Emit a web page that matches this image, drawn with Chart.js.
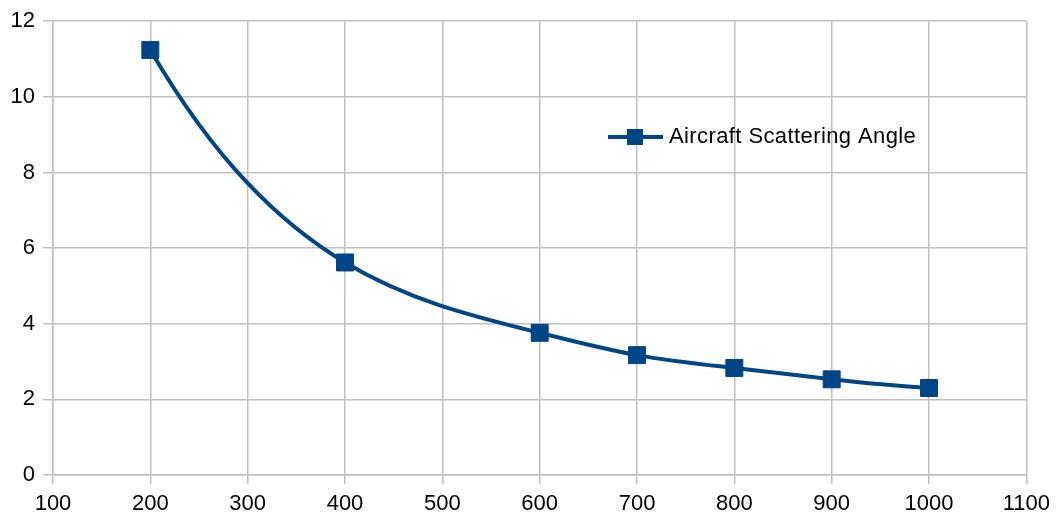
<!DOCTYPE html>
<html>
<head>
<meta charset="utf-8">
<script src="https://cdn.jsdelivr.net/npm/chart.js@4/dist/chart.umd.min.js"></script>
<style>
  html, body { margin: 0; padding: 0; background: #fff; }
  #wrap { width: 1057px; height: 519px; }
</style>
</head>
<body>
<div id="wrap"><canvas id="angleChart" width="1057" height="519"></canvas></div>
<script>
// Data
const seriesLabel = 'Aircraft Scattering Angle';
const xValues = [200, 400, 600, 700, 800, 900, 1000];
const yValues = [11.24, 5.62, 3.76, 3.17, 2.83, 2.53, 2.30];
const xTicks = [100, 200, 300, 400, 500, 600, 700, 800, 900, 1000, 1100];
const yTicks = [0, 2, 4, 6, 8, 10, 12];

const lineColor = '#004586';
const gridColor = '#c0c0c0';
const fontFamily = '"Liberation Sans", Arial, sans-serif';

// cubic spline (not-a-knot ends) of v over t, returns end slopes of each segment
function splineSlopes(t, v) {
    const n = t.length - 1;
    const h = [];
    for (let i = 0; i < n; i++) h.push(t[i + 1] - t[i]);
    const A = [], r = [];
    for (let i = 0; i <= n; i++) { A.push(new Array(n + 1).fill(0)); r.push(0); }
    A[0][0] = h[1]; A[0][1] = -(h[0] + h[1]); A[0][2] = h[0];
    for (let i = 1; i < n; i++) {
        A[i][i - 1] = h[i - 1];
        A[i][i] = 2 * (h[i - 1] + h[i]);
        A[i][i + 1] = h[i];
        r[i] = 6 * ((v[i + 1] - v[i]) / h[i] - (v[i] - v[i - 1]) / h[i - 1]);
    }
    A[n][n - 2] = h[n - 1]; A[n][n - 1] = -(h[n - 2] + h[n - 1]); A[n][n] = h[n - 2];
    // gaussian elimination with pivoting
    for (let k = 0; k <= n; k++) {
        let p = k;
        for (let i = k + 1; i <= n; i++) if (Math.abs(A[i][k]) > Math.abs(A[p][k])) p = i;
        [A[k], A[p]] = [A[p], A[k]]; [r[k], r[p]] = [r[p], r[k]];
        for (let i = k + 1; i <= n; i++) {
            const w = A[i][k] / A[k][k];
            for (let j = k; j <= n; j++) A[i][j] -= w * A[k][j];
            r[i] -= w * r[k];
        }
    }
    const M = new Array(n + 1).fill(0);
    for (let i = n; i >= 0; i--) {
        let s = r[i];
        for (let j = i + 1; j <= n; j++) s -= A[i][j] * M[j];
        M[i] = s / A[i][i];
    }
    const left = [], right = [];
    for (let i = 0; i < n; i++) {
        const s = (v[i + 1] - v[i]) / h[i];
        left.push(s - h[i] * (2 * M[i] + M[i + 1]) / 6);
        right.push(s + h[i] * (M[i] + 2 * M[i + 1]) / 6);
    }
    return { h, left, right };
}

// Replace the library's bezier control points with a cubic spline y(x)
// through the plotted points, like the smooth line of the original
const cubicSpline = {
    id: 'cubicSpline',
    beforeDatasetDraw(chart, args) {
        args.meta.dataset.updateControlPoints(chart.chartArea, 'x');
        const pts = args.meta.data;
        const sy = splineSlopes(pts.map(p => p.x), pts.map(p => p.y));
        for (let i = 0; i < pts.length - 1; i++) {
            const p = pts[i], q = pts[i + 1], k = sy.h[i] / 3;
            p.cp2x = p.x + k;
            p.cp2y = p.y + sy.left[i] * k;
            q.cp1x = q.x - k;
            q.cp1y = q.y - sy.right[i] * k;
        }
    }
};

// Legend drawn inside the plot area, as in the original
const insideLegend = {
    id: 'insideLegend',
    afterDraw(chart) {
        const ctx = chart.ctx;
        const y = 137;
        ctx.save();
        ctx.strokeStyle = lineColor;
        ctx.lineWidth = 4;
        ctx.beginPath();
        ctx.moveTo(608, y);
        ctx.lineTo(663, y);
        ctx.stroke();
        ctx.fillStyle = lineColor;
        ctx.fillRect(627, y - 8, 16, 16);
        ctx.fillStyle = '#000';
        ctx.font = '22px ' + fontFamily;
        ctx.letterSpacing = '0.4px';
        ctx.textBaseline = 'middle';
        ctx.fillText(chart.data.datasets[0].label, 669, y);
        ctx.restore();
    }
};

const points = xValues.map((x, i) => ({ x: x, y: yValues[i] }));

new Chart(document.getElementById('angleChart').getContext('2d'), {
    type: 'scatter',
    data: {
        datasets: [{
            label: seriesLabel,
            data: points,
            showLine: true,
            borderColor: lineColor,
            backgroundColor: lineColor,
            borderWidth: 4,
            tension: 0.4,
            pointStyle: 'rect',
            pointRadius: 12,
            pointBorderWidth: 1,
            pointBackgroundColor: lineColor,
            pointBorderColor: lineColor
        }]
    },
    options: {
        responsive: false,
        animation: false,
        layout: { padding: { top: 20, right: 29, left: 0, bottom: 0 } },
        plugins: {
            legend: { display: false },
            tooltip: { enabled: false }
        },
        scales: {
            x: {
                type: 'linear',
                min: 100,
                max: 1100,
                afterBuildTicks: s => { s.ticks = xTicks.map(v => ({ value: v })); },
                afterFit: s => { s.height = 44; },
                grid: { color: gridColor, lineWidth: 1.5, tickLength: 9 },
                border: { color: gridColor, width: 1.5 },
                ticks: {
                    color: '#000',
                    font: { size: 22, family: fontFamily },
                    padding: 7,
                    maxRotation: 0,
                    callback: v => String(v)
                }
            },
            y: {
                min: 0,
                max: 12,
                afterBuildTicks: s => { s.ticks = yTicks.map(v => ({ value: v })); },
                afterFit: s => { s.width = 53; },
                grid: { color: gridColor, lineWidth: 1.5, tickLength: 10 },
                border: { color: gridColor, width: 1.5 },
                ticks: {
                    color: '#000',
                    font: { size: 22, family: fontFamily },
                    padding: 8,
                    callback: v => String(v)
                }
            }
        }
    },
    plugins: [cubicSpline, insideLegend]
});
</script>
</body>
</html>
